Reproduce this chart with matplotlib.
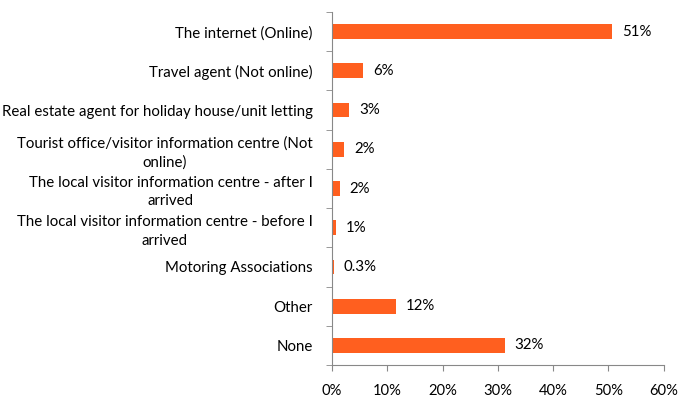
import matplotlib
matplotlib.use("Agg")
import matplotlib.pyplot as plt
import numpy as np

# data
categories = [
    "The internet (Online)",
    "Travel agent (Not online)",
    "Real estate agent for holiday house/unit letting",
    "Tourist office/visitor information centre (Not\nonline)",
    "The local visitor information centre - after I\narrived",
    "The local visitor information centre - before I\narrived",
    "Motoring Associations",
    "Other",
    "None",
]
values = [50.7, 5.7, 3.1, 2.2, 1.4, 0.8, 0.3, 11.5, 31.3]
value_labels = ["51%", "6%", "3%", "2%", "2%", "1%", "0.3%", "12%", "32%"]
x_ticks = [0, 10, 20, 30, 40, 50, 60]

bar_color = "#FF5F1F"
axis_color = "#888888"

plt.rcParams["font.family"] = ["Lato", "DejaVu Sans"]

fig = plt.figure(figsize=(6.82, 4.0), dpi=100)
ax = fig.add_axes([0.4868, 0.0875, 0.4862, 0.8825])

y = np.arange(len(categories))
ax.barh(y, values, height=0.375, color=bar_color)

for yi, v, lab in zip(y, values, value_labels):
    ax.annotate(lab, (v, yi), xytext=(7, 0), textcoords="offset points",
                va="center", ha="left", fontsize=10.8, color="black")

ax.set_xlim(0, 60)
ax.set_ylim(len(categories) - 0.5, -0.5)
ax.set_xticks(x_ticks)
ax.set_xticklabels([f"{t}%" for t in x_ticks], fontsize=10.6)

ax.set_yticks(y)
ax.set_yticklabels(categories, fontsize=10.8)
for lab in ax.get_yticklabels():
    lab.set_multialignment("center")
    lab.set_linespacing(1.4)
ax.set_yticks(np.arange(len(categories) + 1) - 0.5, minor=True)
ax.tick_params(axis="y", which="major", length=0, pad=14)
ax.tick_params(axis="y", which="minor", length=4, color=axis_color)
ax.tick_params(axis="x", length=4, color=axis_color, pad=10)

for side in ["top", "right"]:
    ax.spines[side].set_visible(False)
for side in ["left", "bottom"]:
    ax.spines[side].set_color(axis_color)

fig.savefig("out.png", dpi=100)
